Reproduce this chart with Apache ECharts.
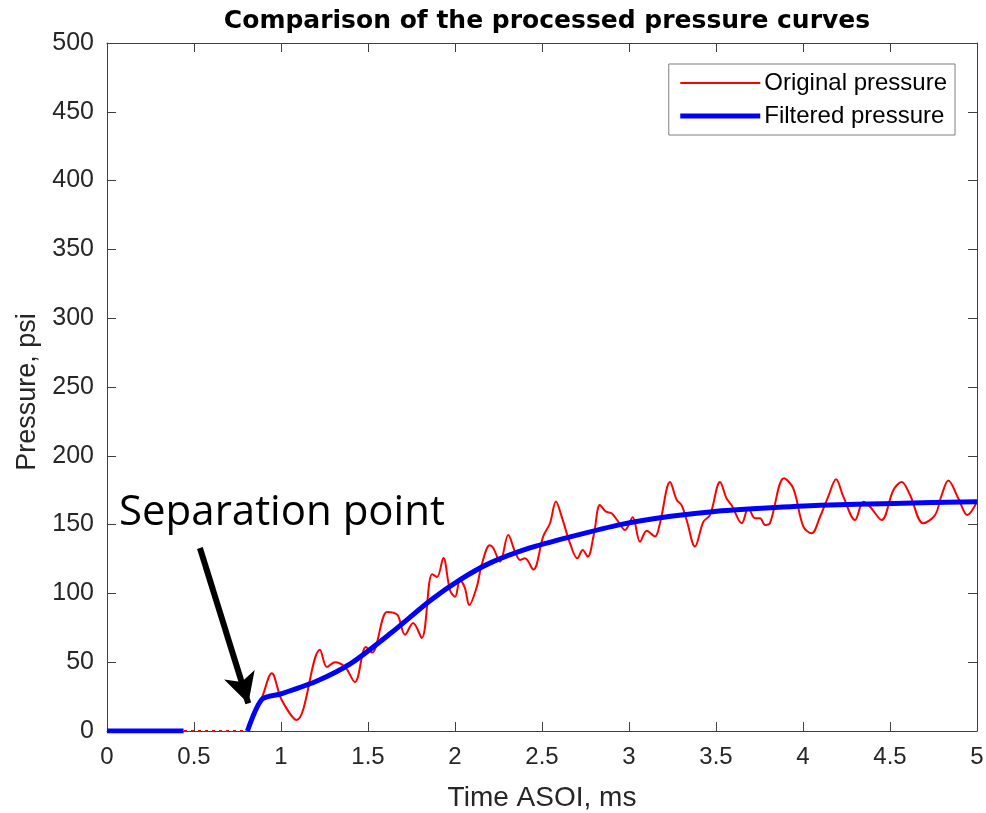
<!DOCTYPE html>
<html>
<head>
<meta charset="utf-8">
<title>Comparison of the processed pressure curves</title>
<script src="https://cdn.jsdelivr.net/npm/echarts@6/dist/echarts.min.js"></script>
<style>
  html, body { margin: 0; padding: 0; background: #fff; overflow: hidden; }
  #chart { width: 986px; height: 813px; }
</style>
</head>
<body>
<div id="chart"></div>
<script>
// Raw pressure trace (time in ms, pressure in psi)
const originalTime = [0.807, 0.89, 0.947, 1.004, 1.09, 1.224, 1.264, 1.31, 1.368, 1.425, 1.488, 1.523, 1.609, 1.644, 1.672, 1.713, 1.759, 1.809, 1.868, 1.897, 1.933, 1.971, 2.0, 2.029, 2.057, 2.082, 2.125, 2.153, 2.2, 2.22, 2.259, 2.306, 2.345, 2.374, 2.402, 2.45, 2.507, 2.546, 2.58, 2.613, 2.661, 2.703, 2.734, 2.763, 2.799, 2.833, 2.868, 2.9, 2.939, 2.977, 3.021, 3.063, 3.102, 3.149, 3.178, 3.236, 3.274, 3.303, 3.332, 3.379, 3.427, 3.466, 3.523, 3.561, 3.59, 3.648, 3.686, 3.724, 3.753, 3.782, 3.81, 3.891, 3.944, 4.002, 4.05, 4.098, 4.145, 4.19, 4.232, 4.299, 4.347, 4.385, 4.452, 4.519, 4.567, 4.615, 4.691, 4.759, 4.797, 4.835, 4.893, 4.944, 5.0];
const originalPressure = [0, 24, 42, 22.5, 8, 59, 46.5, 50, 46.5, 35.6, 61, 57, 86.5, 86, 84, 70, 78.5, 67.6, 114, 112, 125.7, 102.5, 97.5, 109.7, 103.9, 91.6, 104.7, 120.6, 135, 133, 123, 142.4, 130.3, 124.3, 125.5, 117.3, 141.4, 151, 166.8, 155.8, 136.4, 125.5, 131.6, 126.7, 143.6, 164.2, 159.4, 158.2, 152, 146, 155.3, 137.6, 145.6, 141.3, 151, 181, 168, 164, 153, 134, 152, 157, 181, 169, 164, 151, 162, 154.6, 154.6, 149.7, 151, 183.6, 176.4, 148.5, 143.7, 155.7, 170.3, 183, 170.3, 153.3, 166.6, 163, 153.3, 175, 181, 171.5, 150.9, 157, 171.5, 182, 169, 157, 166.6];

// Zero baseline of the raw trace before the pressure rise
const baselineTime = [0, 0.807];
const baselinePressure = [0, 0];

// Filtered pressure: flat start, then the smoothed rise after separation
const filteredStartTime = [0, 0.44];
const filteredStartPressure = [0, 0];
const filteredTime = [0.807, 0.89, 1.0, 1.2, 1.4, 1.63, 1.86, 2.03, 2.2, 2.43, 2.66, 2.95, 3.24, 3.48, 3.79, 4.1, 4.52, 5.0];
const filteredPressure = [0, 23, 27, 36, 49, 71, 95, 110, 122, 133, 141, 150, 156, 159.4, 162, 164, 165.4, 166.6];

// Axis ticks
const xTicks = [0, 0.5, 1, 1.5, 2, 2.5, 3, 3.5, 4, 4.5, 5];
const yTicks = [0, 50, 100, 150, 200, 250, 300, 350, 400, 450, 500];

// Separation-point annotation arrow (data coordinates)
const arrowFrom = [0.534, 133];
const arrowTo = [0.812, 20];

const zip = (xs, ys) => xs.map((x, i) => [x, ys[i]]);

const filteredData = zip(filteredStartTime, filteredStartPressure)
  .concat([[0.62, '-']])
  .concat(zip(filteredTime, filteredPressure));

const axisColor = '#404040';
const font = '"Liberation Sans", Arial, sans-serif';

const frameAxis = (pos, isX) => ({
  type: 'value',
  position: pos,
  min: isX ? xTicks[0] : yTicks[0],
  max: isX ? xTicks[xTicks.length - 1] : yTicks[yTicks.length - 1],
  interval: isX ? xTicks[1] - xTicks[0] : yTicks[1] - yTicks[0],
  axisLine: { show: true, onZero: false, lineStyle: { color: axisColor, width: 1 } },
  axisTick: { show: true, inside: true, length: 9, lineStyle: { color: axisColor } },
  axisLabel: { show: false },
  splitLine: { show: false }
});

const chart = echarts.init(document.getElementById('chart'), null, { renderer: 'canvas' });

chart.setOption({
  animation: false,
  backgroundColor: '#ffffff',
  title: {
    text: 'Comparison of the processed pressure curves',
    left: 542,
    textAlign: 'center',
    top: 4,
    textStyle: { fontFamily: '"DejaVu Sans", sans-serif', fontWeight: 'bold', fontSize: 25, color: '#000' }
  },
  grid: { left: 107, right: 9, top: 43, bottom: 82, containLabel: false, outerBoundsMode: 'none' },
  legend: {
    right: 31,
    top: 64,
    orient: 'vertical',
    data: [
      { name: 'Original pressure', lineStyle: { width: 2, color: '#ff0000' } },
      { name: 'Filtered pressure', lineStyle: { width: 5, color: '#0000ff' } }
    ],
    itemWidth: 80,
    itemHeight: 14,
    itemGap: 9,
    padding: [7, 8, 7, 9],
    borderColor: '#7f7f7f',
    borderWidth: 1,
    backgroundColor: '#fff',
    itemStyle: { color: 'rgba(0,0,0,0)', borderWidth: 0, opacity: 0 },
    textStyle: { fontFamily: font, fontSize: 24, color: '#000', padding: [0, 0, 0, -1] }
  },
  xAxis: [
    Object.assign(frameAxis('bottom', true), {
      name: 'Time ASOI, ms',
      nameLocation: 'middle',
      nameGap: 53,
      nameTextStyle: { fontFamily: font, fontSize: 28, color: '#262626' },
      axisLabel: {
        show: true,
        margin: 14,
        fontFamily: font,
        fontSize: 24,
        color: '#262626',
        formatter: v => String(v)
      }
    }),
    frameAxis('top', true)
  ],
  yAxis: [
    Object.assign(frameAxis('left', false), {
      name: 'Pressure, psi',
      nameLocation: 'middle',
      nameGap: 66,
      nameTextStyle: { fontFamily: font, fontSize: 27, color: '#262626', padding: [0, 0, 0, -10] },
      axisLabel: {
        show: true,
        margin: 13,
        fontFamily: font,
        fontSize: 25,
        color: '#262626'
      }
    }),
    frameAxis('right', false)
  ],
  series: [
    {
      name: 'Original pressure',
      type: 'line',
      data: zip(originalTime, originalPressure),
      showSymbol: false,
      symbol: 'none',
      smooth: 0.35,
      lineStyle: { color: '#ff0000', width: 2 },
      itemStyle: { color: '#ff0000' },
      z: 2
    },
    {
      name: 'Original baseline',
      type: 'line',
      data: zip(baselineTime, baselinePressure),
      symbol: 'none',
      lineStyle: { color: '#ff0000', width: 2, type: [3, 4] },
      z: 2
    },
    {
      name: 'Filtered pressure',
      type: 'line',
      data: filteredData,
      showSymbol: false,
      symbol: 'none',
      smooth: 0.25,
      connectNulls: false,
      lineStyle: { color: '#0000ff', width: 5 },
      itemStyle: { color: '#0000ff' },
      z: 3,
      markLine: {
        silent: true,
        symbol: ['none', 'arrow'],
        symbolSize: [24, 30],
        label: { show: false },
        lineStyle: { color: '#000', width: 6, type: 'solid' },
        data: [[{ coord: arrowFrom }, { coord: arrowTo }]]
      }
    }
  ],
  graphic: [
    {
      type: 'text',
      left: 119,
      top: 492,
      style: {
        text: 'Separation point',
        font: '42px "Open Sans", "Noto Sans", sans-serif',
        fill: '#000'
      }
    }
  ]
});
</script>
</body>
</html>
